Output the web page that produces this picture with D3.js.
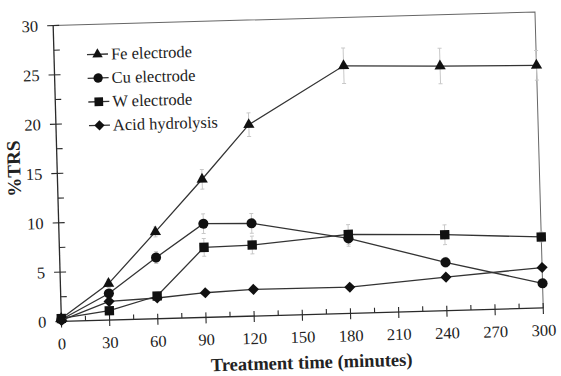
<!DOCTYPE html>
<html>
<head>
<meta charset="utf-8">
<script src="https://cdn.jsdelivr.net/npm/d3@7"></script>
<style>
  body { margin: 0; background: #fff; }
  svg text { font-family: "Liberation Serif", "Times New Roman", serif; }
</style>
</head>
<body>
<div id="chart"></div>
<script>
// treatment times (minutes)
var times = [0, 30, 60, 90, 120, 180, 240, 300];

var feValues   = [0.3, 3.7, 8.8, 14.0, 19.4, 25.1, 24.8, 24.6];
var cuValues   = [0.2, 2.7, 6.2, 9.5, 9.4, 7.6, 4.9, 2.5];
var wValues    = [0.3, 0.95, 2.3, 7.1, 7.2, 8.0, 7.7, 7.2];
var acidValues = [0.1, 1.9, 2.1, 2.5, 2.7, 2.65, 3.4, 4.1];

// faint error bars (half-widths)
var feErr   = [0, 0.4, 0.5, 1.0, 1.2, 1.8, 1.8, 1.5];
var cuErr   = [0, 0.3, 0.6, 1.0, 1.0, 0.8, 0.5, 0.4];
var wErr    = [0, 0.3, 0.4, 0.9, 0.9, 1.0, 1.0, 0.5];
var acidErr = [0, 0.2, 0.3, 0.3, 0.3, 0.3, 0.3, 0.3];

var seriesNames = ["Fe electrode", "Cu electrode", "W electrode", "Acid hydrolysis"];

var xTicks = [0, 30, 60, 90, 120, 150, 180, 210, 240, 270, 300];
var yTicks = [0, 5, 10, 15, 20, 25, 30];

// square turned on its corner
var diamond = {
    draw: function (context, size) {
        var r = Math.sqrt(size / 2);
        context.moveTo(0, -r);
        context.lineTo(r, 0);
        context.lineTo(0, r);
        context.lineTo(-r, 0);
        context.closePath();
    }
};
var symbols = [d3.symbolTriangle, d3.symbolCircle, d3.symbolSquare, diamond];
var symSizes = [55, 80, 88, 62];

var series = [feValues, cuValues, wValues, acidValues].map(function (vals, i) {
    var errs = [feErr, cuErr, wErr, acidErr][i];
    return {
        name: seriesNames[i],
        symbol: symbols[i],
        size: symSizes[i],
        points: vals.map(function (v, j) { return { t: times[j], v: v, e: errs[j] }; })
    };
});

var width = 561, height = 376;
var margin = { left: 57.2, top: 18.75 },
    plotW = 482, plotH = 296;

var svg = d3.select("#chart").append("svg")
    .attr("width", width)
    .attr("height", height);

// the scanned figure is slightly tilted
var root = svg.append("g")
    .attr("transform", "rotate(-1.6," + (margin.left + plotW / 2) + "," + (margin.top + plotH / 2) + ")");

var g = root.append("g")
    .attr("transform", "translate(" + margin.left + "," + margin.top + ")");

var x = d3.scaleLinear().domain([0, 300]).range([0, plotW]);
var y = d3.scaleLinear().domain([0, 30]).range([plotH, 0]);

var ink = "#2a2a2a";

// frame top & right
g.append("path")
    .attr("d", "M0,0H" + plotW + "V" + plotH)
    .attr("fill", "none")
    .attr("stroke", "#666")
    .attr("stroke-width", 1);

// y axis
g.append("line").attr("x1", 0).attr("x2", 0).attr("y1", 0).attr("y2", plotH)
    .attr("stroke", ink).attr("stroke-width", 1.3);
d3.range(0, 30.1, 2.5).forEach(function (v) {
    var major = v % 5 === 0;
    g.append("line")
        .attr("x1", major ? -6 : 0).attr("x2", 6)
        .attr("y1", y(v)).attr("y2", y(v))
        .attr("stroke", ink).attr("stroke-width", 1.1);
});
g.selectAll(".ylab").data(yTicks).enter().append("text")
    .attr("x", -15)
    .attr("y", function (d) { return y(d); })
    .attr("dy", "0.35em")
    .attr("text-anchor", "end")
    .attr("fill", "#222")
    .style("font-size", "16.5px")
    .text(function (d) { return d; });

// x axis
g.append("line").attr("x1", 0).attr("x2", plotW).attr("y1", plotH).attr("y2", plotH)
    .attr("stroke", ink).attr("stroke-width", 1.3);
d3.range(0, 300.1, 15).forEach(function (v) {
    var major = v % 30 === 0;
    g.append("line")
        .attr("x1", x(v)).attr("x2", x(v))
        .attr("y1", major ? plotH + 6 : plotH).attr("y2", plotH - 5)
        .attr("stroke", ink).attr("stroke-width", 1.1);
});
g.selectAll(".xlab").data(xTicks).enter().append("text")
    .attr("x", function (d) { return x(d); })
    .attr("y", plotH + 28)
    .attr("text-anchor", "middle")
    .attr("fill", "#222")
    .style("font-size", "16.5px")
    .text(function (d) { return d; });

// axis titles
g.append("text")
    .attr("x", plotW / 2 + 8)
    .attr("y", plotH + 54)
    .attr("text-anchor", "middle")
    .attr("fill", "#222")
    .style("font-size", "18.5px")
    .style("font-weight", "bold")
    .text("Treatment time (minutes)");

g.append("text")
    .attr("transform", "translate(-37," + (plotH / 2 - 6) + ") rotate(-90)")
    .attr("text-anchor", "middle")
    .attr("fill", "#222")
    .style("font-size", "19px")
    .style("font-weight", "bold")
    .text("%TRS");

// error bars
series.forEach(function (s) {
    var eb = g.append("g").attr("stroke", "#c8c8c8").attr("stroke-width", 1);
    s.points.filter(function (p) { return p.e > 0; }).forEach(function (p) {
        eb.append("line").attr("x1", x(p.t)).attr("x2", x(p.t))
            .attr("y1", y(p.v - p.e)).attr("y2", y(p.v + p.e));
        [p.v - p.e, p.v + p.e].forEach(function (c) {
            eb.append("line").attr("x1", x(p.t) - 2).attr("x2", x(p.t) + 2)
                .attr("y1", y(c)).attr("y2", y(c));
        });
    });
});

var line = d3.line()
    .x(function (d) { return x(d.t); })
    .y(function (d) { return y(d.v); });

series.forEach(function (s) {
    g.append("path")
        .datum(s.points)
        .attr("d", line)
        .attr("fill", "none")
        .attr("stroke", "#333")
        .attr("stroke-width", 1.3);

    g.selectAll(null).data(s.points).enter().append("path")
        .attr("transform", function (d) {
            return "translate(" + x(d.t) + "," + y(d.v) + ")";
        })
        .attr("d", d3.symbol().type(s.symbol).size(s.size))
        .attr("fill", "#111");
});

// legend
var legend = g.append("g").attr("transform", "translate(33,30)");
series.forEach(function (s, i) {
    var row = legend.append("g").attr("transform", "translate(0," + (i * 23.7) + ")");
    row.append("line").attr("x1", 0).attr("x2", 21).attr("y1", 0).attr("y2", 0)
        .attr("stroke", "#333").attr("stroke-width", 1.3);
    row.append("path")
        .attr("transform", "translate(10.5,0)")
        .attr("d", d3.symbol().type(s.symbol).size(s.size * 0.85))
        .attr("fill", "#111");
    row.append("text")
        .attr("x", 24)
        .attr("y", 0)
        .attr("dy", "0.33em")
        .attr("fill", "#222")
        .style("font-size", "16.5px")
        .text(s.name);
});
</script>
</body>
</html>
